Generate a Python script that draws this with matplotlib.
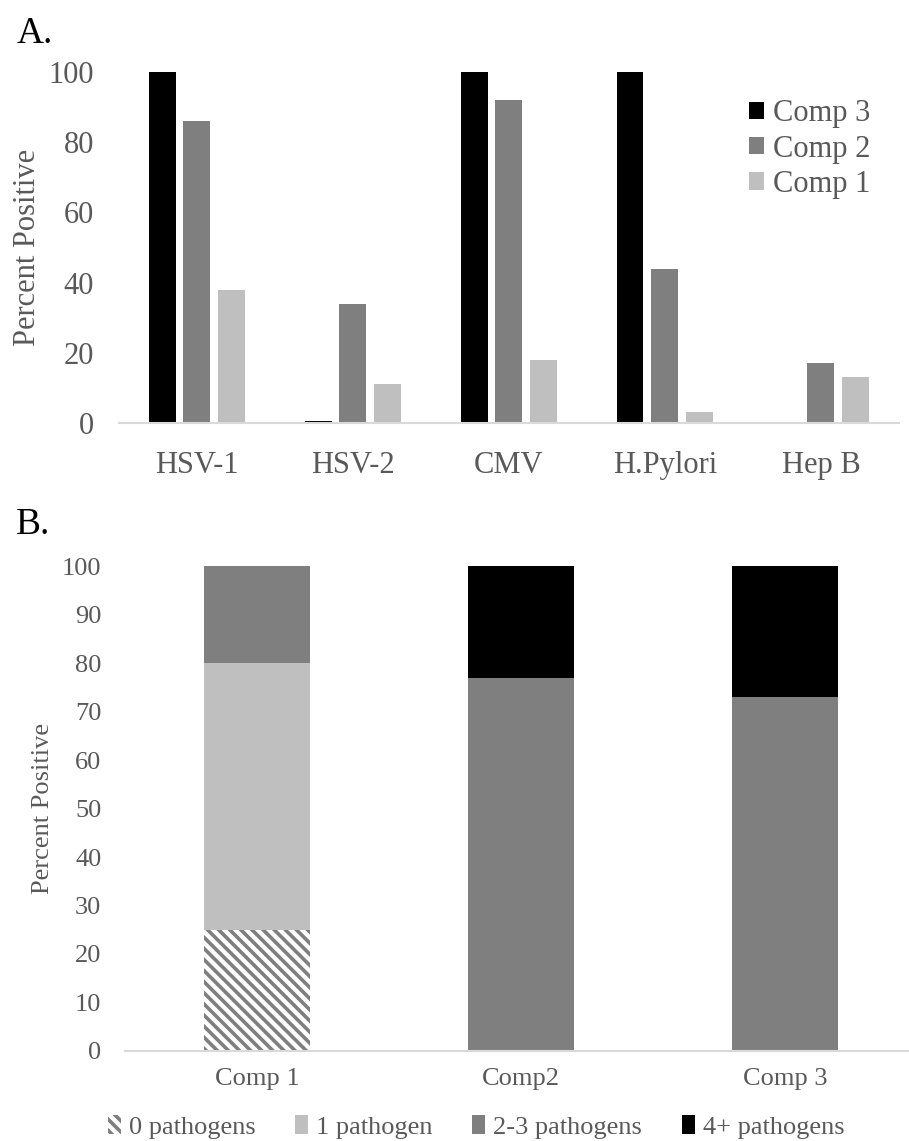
import matplotlib.pyplot as plt
import numpy as np

plt.rcParams['font.family'] = ['Liberation Serif', 'DejaVu Serif']
plt.rcParams['hatch.color'] = '#7f7f7f'
plt.rcParams['hatch.linewidth'] = 2.6

txt = '#595959'
axis_col = '#d9d9d9'

# Panel A data
viruses = ['HSV-1', 'HSV-2', 'CMV', 'H.Pylori', 'Hep B']
comp3 = [100, 0.5, 100, 100, 0]
comp2 = [86, 34, 92, 44, 17]
comp1 = [38, 11, 18, 3, 13]

# Panel B data
groups = ['Comp 1', 'Comp2', 'Comp 3']
p0 = [25, 0, 0]
p1 = [55, 0, 0]
p23 = [20, 77, 73]
p4 = [0, 23, 27]

fig = plt.figure(figsize=(9.09, 11.41), dpi=100)

# ---- Panel A ----
ax = fig.add_axes([0.1309, 0.6293, 0.858, 0.3076])
x = np.arange(len(viruses))
w = 0.173
off = 0.224
ax.bar(x - off, comp3, w, color='black', label='Comp 3')
ax.bar(x, comp2, w, color='#7f7f7f', label='Comp 2')
ax.bar(x + off, comp1, w, color='#bfbfbf', label='Comp 1')
ax.set_xlim(-0.5, 4.5)
ax.set_ylim(0, 100)
ax.set_xticks(x)
ax.set_xticklabels(viruses, fontsize=22, color=txt)
ax.set_yticks(range(0, 101, 20))
ax.tick_params(axis='y', labelsize=22, labelcolor=txt, length=0, pad=18)
ax.tick_params(axis='x', length=0, pad=20)
for s in ['top', 'right', 'left']:
    ax.spines[s].set_visible(False)
ax.spines['bottom'].set_color(axis_col)
ax.spines['bottom'].set_linewidth(1.5)
ax.set_ylabel('Percent Positive', fontsize=22, color=txt)
ax.yaxis.set_label_coords(-0.099, 0.5)
ax.legend(loc='upper left', bbox_to_anchor=(0.772, 1.0), frameon=False,
          fontsize=22, labelcolor=txt, handlelength=0.5, handleheight=0.5,
          handletextpad=0.3, labelspacing=0.2)
fig.text(0.018, 0.962, 'A.', fontsize=27, color='black')

# ---- Panel B ----
bx = fig.add_axes([0.1375, 0.0789, 0.871, 0.425])
xb = np.arange(len(groups))
wb = 0.4
bx.bar(xb, p0, wb, color='white', hatch='\\\\\\', edgecolor='#7f7f7f',
       linewidth=0, label='0 pathogens')
bottom = np.array(p0)
bx.bar(xb, p1, wb, bottom=bottom, color='#bfbfbf', label='1 pathogen')
bottom = bottom + np.array(p1)
bx.bar(xb, p23, wb, bottom=bottom, color='#7f7f7f', label='2-3 pathogens')
bottom = bottom + np.array(p23)
bx.bar(xb, p4, wb, bottom=bottom, color='black', label='4+ pathogens')
bx.set_xlim(-0.5, 2.5)
bx.set_ylim(0, 100)
bx.set_xticks(xb)
bx.set_xticklabels(groups, fontsize=19, color=txt)
bx.set_yticks(range(0, 101, 10))
bx.tick_params(axis='y', labelsize=19, labelcolor=txt, length=0, pad=17)
bx.tick_params(axis='x', length=0, pad=12)
for s in ['top', 'right', 'left']:
    bx.spines[s].set_visible(False)
bx.spines['bottom'].set_color(axis_col)
bx.spines['bottom'].set_linewidth(1.5)
bx.set_ylabel('Percent Positive', fontsize=19, color=txt)
bx.yaxis.set_label_coords(-0.090, 0.5)
handles, labels = bx.get_legend_handles_labels()
fig.legend(handles, labels, loc='center', bbox_to_anchor=(0.5237, 0.0123),
           ncol=4, frameon=False, fontsize=19, labelcolor=txt,
           handlelength=0.5, handleheight=0.7, handletextpad=0.3,
           columnspacing=1.5)
fig.text(0.018, 0.532, 'B.', fontsize=27, color='black')

fig.savefig('out.png', dpi=100)
